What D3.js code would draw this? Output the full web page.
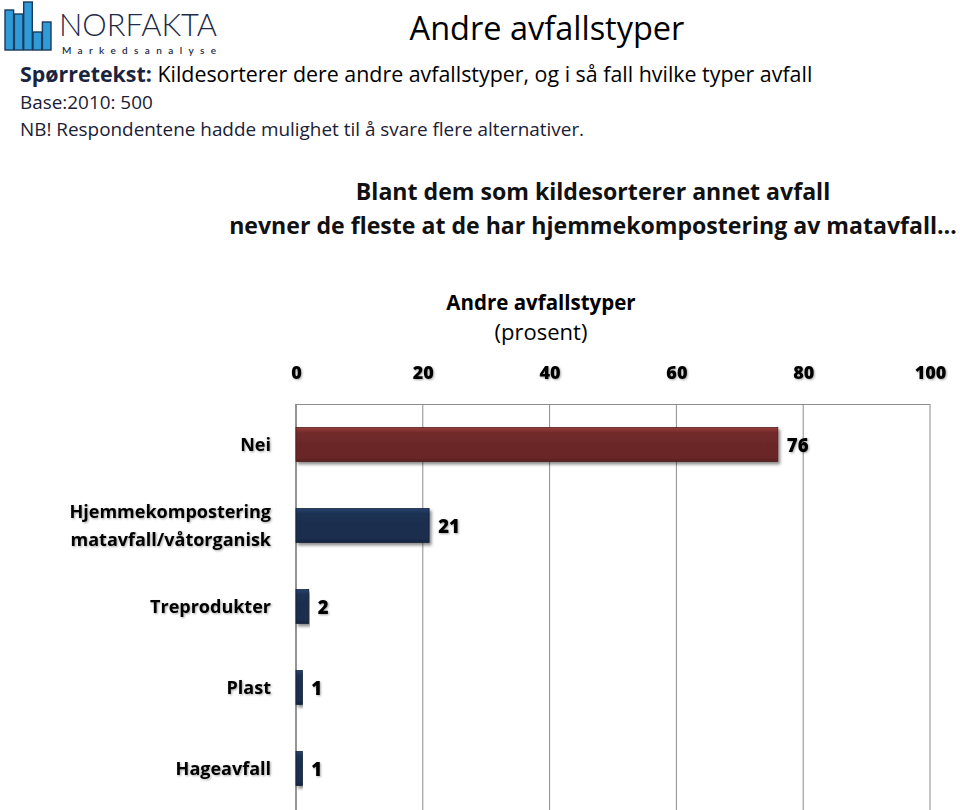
<!DOCTYPE html>
<html><head><meta charset="utf-8">
<script src="https://cdn.jsdelivr.net/npm/d3@7/dist/d3.min.js"></script>
<style>
html,body{margin:0;padding:0;background:#fff;}
svg{display:block;font-family:"Open Sans",sans-serif;}
</style></head>
<body>
<svg id="c" width="960" height="810"></svg>
<script>
const categories = ["Nei", "Hjemmekompostering\nmatavfall/våtorganisk", "Treprodukter", "Plast", "Hageavfall"];
const values = [76, 21, 2, 1, 1];
const barColors = ["#6b2828", "#1b2e4e", "#1b2e4e", "#1b2e4e", "#1b2e4e"];
const tickValues = [0, 20, 40, 60, 80, 100];
const logoBars = [40, 36, 48, 18, 28];

const svg = d3.select("#c");
const defs = svg.append("defs");

const f = defs.append("filter").attr("id","sh").attr("x","-5%").attr("y","-20%").attr("width","115%").attr("height","160%");
f.append("feDropShadow").attr("dx",2).attr("dy",2.5).attr("stdDeviation",1.6).attr("flood-color","#000").attr("flood-opacity",0.45);

const tf = defs.append("filter").attr("id","tsh").attr("x","-10%").attr("y","-20%").attr("width","130%").attr("height","150%");
tf.append("feDropShadow").attr("dx",1).attr("dy",1).attr("stdDeviation",0.8).attr("flood-color","#000").attr("flood-opacity",0.35);

function grad(id, base){
  const c = d3.color(base);
  const g = defs.append("linearGradient").attr("id",id).attr("x1",0).attr("y1",0).attr("x2",0).attr("y2",1);
  g.append("stop").attr("offset","0%").attr("stop-color", c.brighter(1.1));
  g.append("stop").attr("offset","9%").attr("stop-color", c.brighter(0.5));
  g.append("stop").attr("offset","16%").attr("stop-color", c.brighter(0.15));
  g.append("stop").attr("offset","50%").attr("stop-color", c);
  g.append("stop").attr("offset","88%").attr("stop-color", c);
  g.append("stop").attr("offset","100%").attr("stop-color", c.darker(0.6));
}
grad("g0", barColors[0]);
grad("g1", barColors[1]);

// ---- Logo ----
const logo = svg.append("g");
const lx = d3.scaleBand().domain(d3.range(logoBars.length)).range([5,51]).paddingInner(0.08);
const ly = d3.scaleLinear().domain([0,50]).range([50,0]);
logo.selectAll("rect").data(logoBars).join("rect")
  .attr("x",(d,i)=>lx(i)).attr("width",lx.bandwidth())
  .attr("y",d=>ly(d)).attr("height",d=>50-ly(d))
  .attr("fill","#2f9bd8").attr("stroke","#1b3a5c").attr("stroke-width",1.4);
logo.append("text").attr("x",59).attr("y",36).attr("font-size",31).attr("font-weight",300)
  .attr("fill","#1d2b48").attr("font-family","Lato,sans-serif").attr("textLength",158).attr("lengthAdjust","spacingAndGlyphs").text("NORFAKTA");
logo.append("text").attr("x",62).attr("y",53.5).attr("font-size",10).attr("font-weight",600)
  .attr("fill","#1d2b48").attr("font-family","Lato,sans-serif").attr("textLength",154).text("Markedsanalyse");

// ---- Header texts ----
svg.append("text").attr("x",547).attr("y",40).attr("text-anchor","middle").attr("font-size",32.5).attr("fill","#000").text("Andre avfallstyper");
const q = svg.append("text").attr("x",20).attr("y",82).attr("font-size",21.4).attr("fill","#000");
q.append("tspan").attr("font-weight","bold").attr("fill","#1a2440").text("Spørretekst:");
q.append("tspan").text(" Kildesorterer dere andre avfallstyper, og i så fall hvilke typer avfall");
svg.append("text").attr("x",20).attr("y",109).attr("font-size",18.9).attr("fill","#1a2036").text("Base:2010: 500");
svg.append("text").attr("x",20).attr("y",136).attr("font-size",18.9).attr("fill","#1a2036").text("NB! Respondentene hadde mulighet til å svare flere alternativer.");

svg.append("text").attr("x",593).attr("y",200).attr("text-anchor","middle").attr("font-size",23.1).attr("font-weight","bold").attr("fill","#111").text("Blant dem som kildesorterer annet avfall");
svg.append("text").attr("x",593).attr("y",234).attr("text-anchor","middle").attr("font-size",23.1).attr("font-weight","bold").attr("fill","#111").text("nevner de fleste at de har hjemmekompostering av matavfall…");

svg.append("text").attr("x",541).attr("y",310).attr("text-anchor","middle").attr("font-size",20.5).attr("font-weight","bold").attr("fill","#000").text("Andre avfallstyper");
svg.append("text").attr("x",541).attr("y",340).attr("text-anchor","middle").attr("font-size",22).attr("fill","#000").text("(prosent)");

// ---- Chart ----
const x = d3.scaleLinear().domain([0,100]).range([296,930]);
const y = d3.scaleBand().domain(categories).range([404,809]).paddingInner(0.58).paddingOuter(0.29);

svg.append("g").selectAll("line").data(tickValues).join("line")
  .attr("x1",d=>x(d)).attr("x2",d=>x(d)).attr("y1",404).attr("y2",810)
  .attr("stroke",(d)=>d===0?"#7a7a7a":"#8c8c8c").attr("stroke-width",d=>d===0?1.6:1);
svg.append("line").attr("x1",x(0)).attr("x2",x(100)).attr("y1",404.5).attr("y2",404.5).attr("stroke","#8c8c8c");

const ax = svg.append("g").attr("transform","translate(0,379)")
  .call(d3.axisTop(x).tickValues(tickValues).tickSize(0).tickPadding(0));
ax.select(".domain").remove();
ax.selectAll("text").attr("font-family","\"Open Sans\",sans-serif").attr("font-size",18).attr("font-weight",800).attr("fill","#000").attr("dy",0).attr("filter","url(#tsh)");

svg.append("g").selectAll("rect").data(values).join("rect")
  .attr("x",x(0)).attr("y",(d,i)=>y(categories[i]))
  .attr("width",d=>x(d)-x(0)).attr("height",y.bandwidth())
  .attr("fill",(d,i)=>i===0?"url(#g0)":"url(#g1)")
  .attr("stroke",(d,i)=>d3.color(barColors[i]).darker(0.8)).attr("stroke-width",0.8)
  .attr("filter","url(#sh)");

svg.append("g").selectAll("text").data(values).join("text")
  .attr("x",d=>x(d)+9).attr("y",(d,i)=>y(categories[i])+y.bandwidth()/2+7)
  .attr("font-size",18.5).attr("font-weight",800).attr("fill","#000").attr("filter","url(#tsh)")
  .text(d=>d);

const cl = svg.append("g").selectAll("text").data(categories).join("text")
  .attr("text-anchor","end").attr("font-size",18).attr("font-weight",700).attr("fill","#000").attr("filter","url(#tsh)")
  .attr("x",271);
cl.each(function(d){
  const lines = d.split("\n");
  const cy = y(d)+y.bandwidth()/2;
  const t = d3.select(this);
  lines.forEach((ln,j)=>{
    t.append("tspan").attr("x",271).attr("y",cy+6+(j-(lines.length-1)/2)*28).text(ln);
  });
});
</script>
</body></html>
